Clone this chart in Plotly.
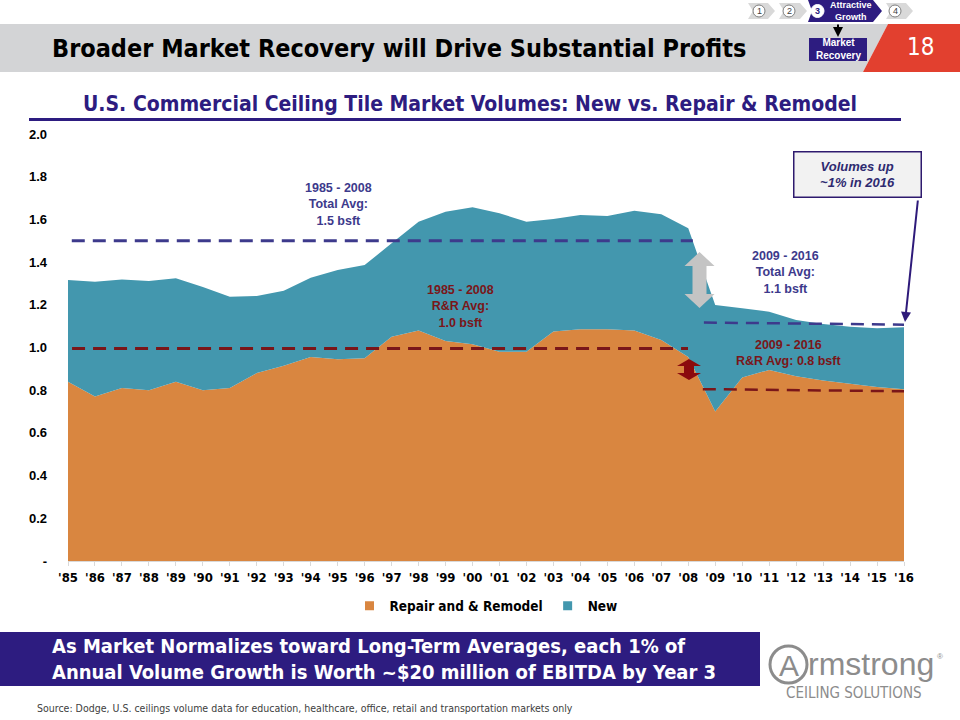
import plotly.graph_objects as go

# ---------------- data ----------------
years = list(range(1985, 2017))
year_labels = ["'" + str(y)[2:] for y in years]
repair_remodel = [0.840, 0.770, 0.810, 0.800, 0.840, 0.800, 0.810, 0.880, 0.915, 0.955,
                  0.945, 0.950, 1.050, 1.080, 1.030, 1.015, 0.980, 0.980, 1.075, 1.085,
                  1.085, 1.080, 1.035, 0.955, 0.700, 0.860, 0.895, 0.865, 0.845, 0.830,
                  0.815, 0.805]
new_const = [0.476, 0.538, 0.509, 0.511, 0.484, 0.483, 0.428, 0.361, 0.351, 0.372,
             0.418, 0.436, 0.438, 0.509, 0.606, 0.642, 0.649, 0.609, 0.527, 0.536,
             0.531, 0.561, 0.589, 0.603, 0.499, 0.324, 0.273, 0.264, 0.265, 0.267,
             0.275, 0.290]
y_ticks = [0, 0.2, 0.4, 0.6, 0.8, 1.0, 1.2, 1.4, 1.6, 1.8, 2.0]
y_tick_labels = ["-", "0.2", "0.4", "0.6", "0.8", "1.0", "1.2", "1.4", "1.6", "1.8", "2.0"]

# average reference lines: (x start, x end, y start, y end)
avg_total_85_08 = (1985.14, 2008.17, 1.50, 1.50)
avg_rr_85_08 = (1985.15, 2007.99, 0.995, 0.995)
avg_total_09_16 = (2008.58, 2016.0, 1.117, 1.107)
avg_rr_09_16 = (2008.54, 2016.0, 0.805, 0.795)

# ---------------- styles ----------------
ORANGE = "#D98640"
TEAL = "#4397AE"
PURPLE = "#3D3A8C"
DKRED = "#7A1619"
INDIGO = "#2D1C80"
NARROW = "DejaVu Sans Condensed, Liberation Sans Narrow, Liberation Sans, Arial, sans-serif"
SANS = "Liberation Sans, Arial, sans-serif"

L, R, T, B = 68, 904, 134, 561
W, H = R - L, B - T


def xp(px):
    return (px - L) / W


def yp(py):
    return (B - py) / H


def poly(points):
    return "M " + " L ".join(f"{xp(x):.5f},{yp(y):.5f}" for x, y in points) + " Z"


def txt(px, py, text, font, xanchor="center", yanchor="middle", **kw):
    d = dict(x=xp(px), y=yp(py), xref="paper", yref="paper", xanchor=xanchor,
             yanchor=yanchor, showarrow=False, text=text, font=font)
    d.update(kw)
    return d


fig = go.Figure()
fig.add_trace(go.Scatter(x=years, y=repair_remodel, stackgroup="one", mode="none",
                         fillcolor=ORANGE, name="Repair and & Remodel", showlegend=False))
fig.add_trace(go.Scatter(x=years, y=new_const, stackgroup="one", mode="none",
                         fillcolor=TEAL, name="New", showlegend=False))

for seg, col, wid in [(avg_total_85_08, PURPLE, 3), (avg_rr_85_08, DKRED, 3),
                      (avg_total_09_16, PURPLE, 2.5), (avg_rr_09_16, DKRED, 2.5)]:
    fig.add_trace(go.Scatter(x=[seg[0], seg[1]], y=[seg[2], seg[3]], mode="lines",
                             line=dict(color=col, width=wid, dash="13px,8px"),
                             showlegend=False, hoverinfo="skip"))

# legend proxies
fig.add_trace(go.Scatter(x=[None], y=[None], mode="markers", name="Repair and & Remodel",
                         marker=dict(symbol="square", size=9, color=ORANGE)))
fig.add_trace(go.Scatter(x=[None], y=[None], mode="markers", name="New",
                         marker=dict(symbol="square", size=9, color=TEAL)))

shapes = []
annotations = []

# header band
shapes.append(dict(type="path", xref="paper", yref="paper", layer="above",
                   path=poly([(0, 24), (888, 24), (863, 72), (0, 72)]),
                   fillcolor="#D3D4D6", line=dict(width=0)))
shapes.append(dict(type="path", xref="paper", yref="paper", layer="above",
                   path=poly([(888, 24), (960, 24), (960, 72), (863, 72)]),
                   fillcolor="#E2402F", line=dict(width=0)))
annotations.append(txt(50, 48, "<b>Broader Market Recovery will Drive Substantial Profits</b>",
                       dict(family=NARROW, size=25, color="#000000"), xanchor="left"))
annotations.append(txt(920, 47, "18", dict(family=NARROW, size=24, color="#FFFFFF")))

# breadcrumb nav
for x0, x1, cx, label in [(748, 775, 759, "1"), (779, 807, 789, "2"), (886, 913, 895, "4")]:
    shapes.append(dict(type="path", xref="paper", yref="paper",
                       path=poly([(x0, 3), (x1 - 7, 3), (x1, 11), (x1 - 7, 19), (x0, 19), (x0 + 5, 11)]),
                       fillcolor="#D9D9D9", line=dict(width=0)))
    shapes.append(dict(type="circle", xref="paper", yref="paper",
                       x0=xp(cx - 6), x1=xp(cx + 6), y0=yp(17), y1=yp(5),
                       fillcolor="#FFFFFF", line=dict(color="#7F7F7F", width=1)))
    annotations.append(txt(cx, 11, label, dict(family=SANS, size=9, color="#404040")))
shapes.append(dict(type="path", xref="paper", yref="paper",
                   path=poly([(808, 0), (873, 0), (882, 11), (873, 22), (808, 22), (812, 11)]),
                   fillcolor=INDIGO, line=dict(width=0)))
shapes.append(dict(type="circle", xref="paper", yref="paper",
                   x0=xp(811), x1=xp(824), y0=yp(17.5), y1=yp(4.5),
                   fillcolor="#FFFFFF", line=dict(color="#FFFFFF", width=1)))
annotations.append(txt(817.5, 11, "<b>3</b>", dict(family=SANS, size=9, color=INDIGO)))
annotations.append(txt(851, 11, "<b>Attractive<br>Growth</b>",
                       dict(family=SANS, size=9, color="#FFFFFF")))
annotations.append(dict(x=xp(838), y=yp(37), xref="paper", yref="paper", showarrow=True,
                        ax=0, ay=-14, arrowhead=2, arrowsize=1, arrowwidth=2,
                        arrowcolor="#000000", text=""))
shapes.append(dict(type="rect", xref="paper", yref="paper", layer="above",
                   x0=xp(809), x1=xp(867), y0=yp(61), y1=yp(38),
                   fillcolor=INDIGO, line=dict(width=0)))
annotations.append(txt(838, 49.5, "<b>Market<br>Recovery</b>",
                       dict(family=SANS, size=10, color="#FFFFFF")))

# chart title + underline
annotations.append(txt(470, 104,
                       "<b>U.S. Commercial Ceiling Tile Market Volumes: New vs. Repair &amp; Remodel</b>",
                       dict(family=NARROW, size=21, color=INDIGO)))
shapes.append(dict(type="rect", xref="paper", yref="paper",
                   x0=xp(29), x1=xp(901), y0=yp(121), y1=yp(118),
                   fillcolor=INDIGO, line=dict(width=0)))

# chart annotations
annotations.append(txt(338, 204, "<b>1985 - 2008<br>Total Avg:<br>1.5 bsft</b>",
                       dict(family=SANS, size=12.5, color=PURPLE)))
annotations.append(txt(460, 306, "<b>1985 - 2008<br>R&amp;R Avg:<br>1.0 bsft</b>",
                       dict(family=SANS, size=12.5, color=DKRED)))
annotations.append(txt(785, 272.5, "<b>2009 - 2016<br>Total Avg:<br>1.1 bsft</b>",
                       dict(family=SANS, size=12.5, color=PURPLE)))
annotations.append(txt(788, 353, "<b>2009 - 2016<br>R&amp;R Avg: 0.8 bsft</b>",
                       dict(family=SANS, size=12.5, color=DKRED)))

# grey double arrow
shapes.append(dict(type="path", xref="paper", yref="paper", layer="above",
                   path=poly([(699.5, 252), (714.5, 266), (706.5, 266), (706.5, 294), (714.5, 294),
                              (699.5, 308), (684.5, 294), (692.5, 294), (692.5, 266), (684.5, 266)]),
                   fillcolor="#C4C4C4", line=dict(width=0)))
# dark red double arrow
shapes.append(dict(type="path", xref="paper", yref="paper", layer="above",
                   path=poly([(689, 359), (701, 366), (694, 366), (694, 373), (701, 373),
                              (689, 380), (677, 373), (684, 373), (684, 366), (677, 366)]),
                   fillcolor="#8B0A0E", line=dict(width=0)))

# callout box
annotations.append(txt(857, 174.5, "<b><i>Volumes up<br>~1% in 2016</i></b>",
                       dict(family=SANS, size=13, color="#2E2A70"),
                       bgcolor="#F2F2F2", bordercolor="#2E1A6E", borderwidth=1.5,
                       width=124, height=42, borderpad=1))
annotations.append(dict(x=xp(905), y=yp(322), xref="paper", yref="paper", showarrow=True,
                        ax=13, ay=-123, arrowhead=2, arrowsize=1, arrowwidth=2,
                        arrowcolor="#2E1A7A", text=""))

# bottom banner
shapes.append(dict(type="rect", xref="paper", yref="paper",
                   x0=xp(0), x1=xp(760), y0=yp(686), y1=yp(632),
                   fillcolor=INDIGO, line=dict(width=0)))
annotations.append(txt(50, 659,
                       "<b>As Market Normalizes toward Long-Term Averages, each 1% of<br>"
                       "Annual Volume Growth is Worth ~$20 million of EBITDA by Year 3</b>",
                       dict(family=NARROW, size=20, color="#FFFFFF"), xanchor="left", align="left"))
annotations.append(txt(35, 708,
                       "Source: Dodge, U.S. ceilings volume data for education, healthcare, office, retail and transportation markets only",
                       dict(family=NARROW, size=10.5, color="#404040"), xanchor="left"))

# Armstrong logo
shapes.append(dict(type="circle", xref="paper", yref="paper",
                   x0=xp(770), x1=xp(807), y0=yp(683), y1=yp(646),
                   line=dict(color="#8C8C8C", width=3)))
annotations.append(txt(788.5, 665, "A", dict(family=SANS, size=30, color="#8C8C8C")))
annotations.append(txt(806, 664, "rmstrong", dict(family=SANS, size=32, color="#8C8C8C"),
                       xanchor="left"))
annotations.append(txt(940, 656, "®", dict(family=SANS, size=8, color="#8C8C8C")))
annotations.append(txt(854, 693, "CEILING SOLUTIONS", dict(family=NARROW, size=15, color="#8C8C8C")))

fig.update_layout(
    width=960, height=720, autosize=False,
    margin=dict(l=L, r=960 - R, t=T, b=720 - B, pad=0),
    paper_bgcolor="#FFFFFF", plot_bgcolor="#FFFFFF",
    shapes=shapes, annotations=annotations,
    showlegend=True,
    legend=dict(orientation="h", x=0.5, xanchor="center", y=yp(606), yanchor="middle",
                traceorder="normal",
                font=dict(family=NARROW, size=13.5, color="#000000", weight="bold"), itemwidth=30,
                bgcolor="rgba(0,0,0,0)"),
    xaxis=dict(range=[1985, 2016], tickvals=years, ticktext=year_labels,
               showgrid=False, zeroline=False, showline=True, linecolor="#D9D9D9",
               ticks="outside", ticklen=4, tickcolor="#D9D9D9",
               tickfont=dict(family=NARROW, size=13, color="#000000", weight="bold")),
    yaxis=dict(range=[0, 2.0], tickvals=y_ticks, ticktext=y_tick_labels,
               showgrid=False, zeroline=False, showline=False, ticks="",
               ticklabelstandoff=20,
               tickfont=dict(family=SANS, size=13, color="#000000", weight="bold")),
)

fig.write_html("out.html", config={"displayModeBar": False},
               post_script="document.body.style.margin='0';document.body.style.overflow='hidden';")
